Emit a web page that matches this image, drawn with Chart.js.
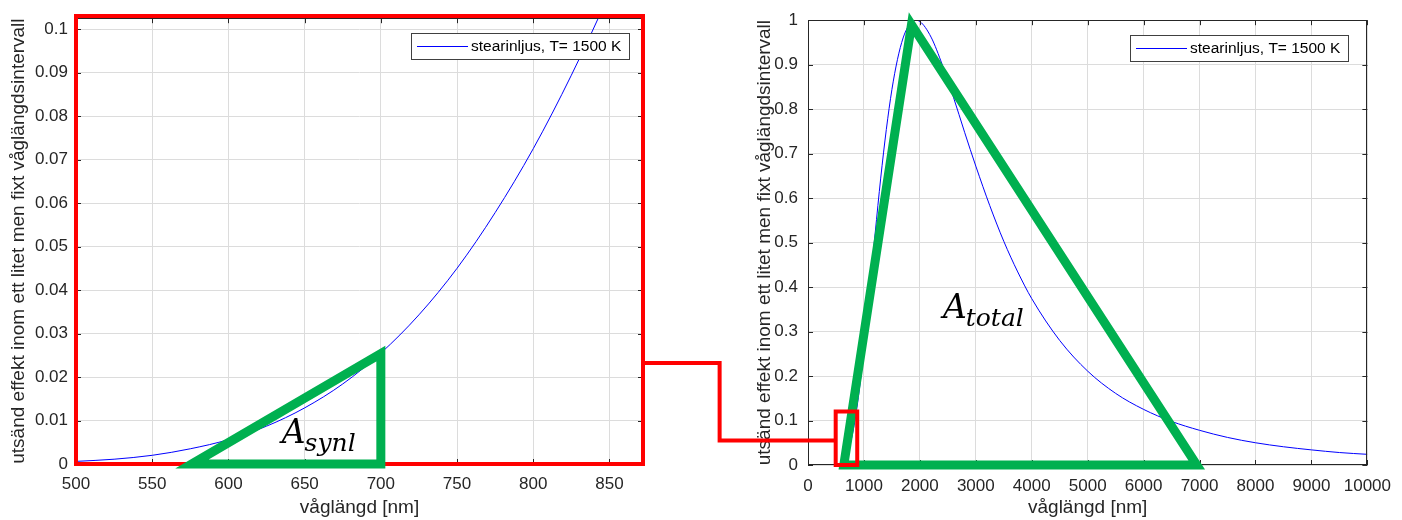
<!DOCTYPE html>
<html>
<head>
<meta charset="utf-8">
<script src="https://cdn.jsdelivr.net/npm/chart.js@4.4.1/dist/chart.umd.min.js"></script>
<style>
    body { margin: 0; background: #fff; }
    #wrap { position: relative; width: 1402px; height: 520px; }
    #wrap canvas { position: absolute; top: 0; }
</style>
</head>
<body>
<div id="wrap">
    <canvas id="zoomChart" width="701" height="520" style="left:0"></canvas>
    <canvas id="fullChart" width="701" height="520" style="left:701px"></canvas>
    <canvas id="overlay" width="1402" height="520" style="left:0;pointer-events:none"></canvas>
</div>
<script>
var seriesLabel = "stearinljus, T= 1500 K";
var titleX = "våglängd [nm]";
var titleY = "utsänd effekt inom ett litet men fixt våglängdsintervall";

// left plot: zoom on the visible band
var zoomWave  = [500, 525, 550, 575, 600, 625, 650, 675, 700, 725, 750, 775, 800, 825, 850, 875];
var zoomPower = [0.0006, 0.0011, 0.0020, 0.0035, 0.0056, 0.0087, 0.0129, 0.0184, 0.0255, 0.0343, 0.0450, 0.0578, 0.0725, 0.0894, 0.1083, 0.1297];
var zoomTicksX = [500, 550, 600, 650, 700, 750, 800, 850];
var zoomTicksY = [0, 0.01, 0.02, 0.03, 0.04, 0.05, 0.06, 0.07, 0.08, 0.09, 0.1];

// right plot: whole spectrum
var fullWave  = [500, 600, 700, 800, 900, 1000, 1100, 1200, 1300, 1400, 1500, 1600, 1700, 1800, 1900, 2000, 2200, 2400, 2600, 2800, 3000, 3250, 3500, 3750, 4000, 4500, 5000, 5500, 6000, 6500, 7000, 7500, 8000, 8500, 9000, 9500, 10000];
var fullPower = [0.0006, 0.0056, 0.0255, 0.0725, 0.152, 0.262, 0.389, 0.520, 0.645, 0.754, 0.844, 0.912, 0.960, 0.988, 1.000, 0.997, 0.962, 0.900, 0.827, 0.748, 0.672, 0.583, 0.503, 0.434, 0.374, 0.280, 0.211, 0.161, 0.125, 0.098, 0.078, 0.062, 0.050, 0.041, 0.034, 0.028, 0.024];
var fullTicksX = [0, 1000, 2000, 3000, 4000, 5000, 6000, 7000, 8000, 9000, 10000];
var fullTicksY = [0, 0.1, 0.2, 0.3, 0.4, 0.5, 0.6, 0.7, 0.8, 0.9, 1];

// hand drawn marks, in data units of each plot
var synlTriangle  = [[576, 0], [700, 0.0254], [700, 0]];
var totalTriangle = [[640, 0], [1850, 0.99], [6950, 0]];
var zoomFrame     = [[500, 0], [500, 0.103], [872, 0.103], [872, 0]];
var zoomMarker    = [[495, 0], [495, 0.12], [880, 0.12], [880, 0]];
var synlLabel  = {main: "A", sub: "synl", x: 635, y: 0.0048};
var totalLabel = {main: "A", sub: "total", x: 2412, y: 0.330};
var connector  = {fromY: 0.0232, elbowX: -1580, toY: 0.055};

var axisColor = "#262626";
var gridColor = "#dcdcdc";
var green = "#00b050";
var red = "#ff0000";

Chart.defaults.font.family = "'Liberation Sans', Arial, sans-serif";
Chart.defaults.color = axisColor;

function toPoints(xs, ys) {
    return xs.map(function (x, i) { return {x: x, y: ys[i]}; });
}

function drawShape(chart, pts, color, width) {
    var ctx = chart.ctx, sx = chart.scales.x, sy = chart.scales.y;
    ctx.save();
    ctx.strokeStyle = color;
    ctx.lineWidth = width;
    ctx.lineJoin = "miter";
    ctx.beginPath();
    pts.forEach(function (p, i) {
        var px = sx.getPixelForValue(p[0]), py = sy.getPixelForValue(p[1]);
        if (i == 0) ctx.moveTo(px, py); else ctx.lineTo(px, py);
    });
    ctx.closePath();
    ctx.stroke();
    ctx.restore();
}

function drawAreaLabel(chart, lab) {
    var ctx = chart.ctx;
    var x = chart.scales.x.getPixelForValue(lab.x), y = chart.scales.y.getPixelForValue(lab.y);
    ctx.save();
    ctx.fillStyle = "#000";
    ctx.textBaseline = "alphabetic";
    ctx.font = "italic 33px 'DejaVu Serif', serif";
    ctx.fillText(lab.main, x, y);
    var w = ctx.measureText(lab.main).width;
    ctx.font = "italic 25px 'DejaVu Serif', serif";
    ctx.fillText(lab.sub, x + w - 1, y + 8);
    ctx.restore();
}

function drawLegendBox(chart, inset) {
    var ctx = chart.ctx, a = chart.chartArea;
    var ds = chart.data.datasets[0];
    ctx.save();
    ctx.font = "15.5px 'Liberation Sans', Arial, sans-serif";
    var w = Math.round(ctx.measureText(ds.label).width + 68);
    var h = 26;
    var x = Math.round(a.right - inset - w), y = Math.round(a.top + 15);
    ctx.fillStyle = "#fff";
    ctx.fillRect(x, y, w, h);
    ctx.strokeStyle = "#404040";
    ctx.lineWidth = 1;
    ctx.strokeRect(x + 0.5, y + 0.5, w, h);
    ctx.strokeStyle = ds.borderColor;
    ctx.beginPath();
    ctx.moveTo(x + 6, y + h / 2 + 0.5);
    ctx.lineTo(x + 57, y + h / 2 + 0.5);
    ctx.stroke();
    ctx.fillStyle = "#000";
    ctx.textBaseline = "middle";
    ctx.fillText(ds.label, x + 60, y + h / 2 + 1);
    ctx.restore();
}

// matlab style box with inward ticks, then the drawn marks and legend
function sketchPlugin(cfg) {
    return {
        id: "sketch",
        afterDatasetsDraw: function (chart) {
            var ctx = chart.ctx, a = chart.chartArea, sx = chart.scales.x, sy = chart.scales.y;
            ctx.save();
            ctx.strokeStyle = axisColor;
            ctx.lineWidth = 1;
            ctx.strokeRect(Math.round(a.left) + 0.5, Math.round(a.top) + 0.5, Math.round(a.right - a.left) - 1, Math.round(a.bottom - a.top) - 1);
            ctx.beginPath();
            sx.ticks.forEach(function (t) {
                var x = Math.round(sx.getPixelForValue(t.value)) + 0.5;
                ctx.moveTo(x, a.bottom); ctx.lineTo(x, a.bottom - 5);
                ctx.moveTo(x, a.top); ctx.lineTo(x, a.top + 5);
            });
            sy.ticks.forEach(function (t) {
                var y = Math.round(sy.getPixelForValue(t.value)) + 0.5;
                ctx.moveTo(a.left, y); ctx.lineTo(a.left + 5, y);
                ctx.moveTo(a.right, y); ctx.lineTo(a.right - 5, y);
            });
            ctx.stroke();
            ctx.restore();
        },
        afterDraw: function (chart) {
            cfg.shapes.forEach(function (s) { drawShape(chart, s.pts, s.color, s.width); });
            drawAreaLabel(chart, cfg.label);
            drawLegendBox(chart, cfg.legendInset);
        }
    };
}

function makeConfig(xs, ys, xMin, xMax, yMax, ticksX, ticksY, area, titlePad, tickPadX, tickPadY, plugin) {
    return {
        type: "line",
        data: {
            datasets: [{
                label: seriesLabel,
                data: toPoints(xs, ys),
                borderColor: "#0000ff",
                borderWidth: 1,
                pointRadius: 0,
                fill: false,
                cubicInterpolationMode: "monotone"
            }]
        },
        options: {
            responsive: false,
            animation: false,
            events: [],
            layout: {padding: {left: 0, right: area.right, top: area.top, bottom: 0}},
            plugins: {legend: {display: false}, tooltip: {enabled: false}},
            scales: {
                x: {
                    type: "linear", min: xMin, max: xMax,
                    afterBuildTicks: function (s) { s.ticks = ticksX.map(function (v) { return {value: v}; }); },
                    afterFit: function (s) { s.height = area.bottom; },
                    grid: {color: gridColor, drawTicks: false},
                    border: {display: false},
                    ticks: {padding: tickPadX, autoSkip: false, maxRotation: 0, font: {size: 17}, color: axisColor,
                        callback: function (v) { return String(v); }},
                    title: {display: true, text: titleX, color: axisColor, font: {size: 19}, padding: {top: 0, bottom: 1}}
                },
                y: {
                    type: "linear", min: 0, max: yMax,
                    afterBuildTicks: function (s) { s.ticks = ticksY.map(function (v) { return {value: v}; }); },
                    afterFit: function (s) { s.width = area.left; },
                    grid: {color: gridColor, drawTicks: false},
                    border: {display: false},
                    ticks: {padding: tickPadY, autoSkip: false, font: {size: 17}, color: axisColor,
                        callback: function (v) { return String(v); }},
                    title: {display: true, text: titleY, color: axisColor, font: {size: 19}, padding: {top: titlePad, bottom: 0}}
                }
            }
        },
        plugins: [plugin]
    };
}

var zoomChart = new Chart(document.getElementById("zoomChart"), makeConfig(
    zoomWave, zoomPower, 500, 872, 0.1025, zoomTicksX, zoomTicksY,
    {left: 76, right: 58, top: 17, bottom: 56}, 7, 10, 8,
    sketchPlugin({
        shapes: [{pts: zoomFrame, color: red, width: 4}, {pts: synlTriangle, color: green, width: 9}],
        label: synlLabel,
        legendInset: 14
    })
));

var fullChart = new Chart(document.getElementById("fullChart"), makeConfig(
    fullWave, fullPower, 0, 10000, 1, fullTicksX, fullTicksY,
    {left: 107, right: 26, top: 18, bottom: 55}, 52, 11, 10,
    sketchPlugin({
        shapes: [{pts: totalTriangle, color: green, width: 9}, {pts: zoomMarker, color: red, width: 4}],
        label: totalLabel,
        legendInset: 19
    })
));

// red link from the zoom frame to the marker on the full plot
function drawConnector() {
    var ctx = document.getElementById("overlay").getContext("2d");
    var offset = 701;
    var x0 = zoomChart.scales.x.getPixelForValue(zoomFrame[2][0]);
    var y0 = zoomChart.scales.y.getPixelForValue(connector.fromY);
    var xe = offset + fullChart.scales.x.getPixelForValue(connector.elbowX);
    var y1 = fullChart.scales.y.getPixelForValue(connector.toY);
    var x1 = offset + fullChart.scales.x.getPixelForValue(zoomMarker[0][0]);
    ctx.strokeStyle = red;
    ctx.lineWidth = 4;
    ctx.lineJoin = "miter";
    ctx.beginPath();
    ctx.moveTo(x0, y0);
    ctx.lineTo(xe, y0);
    ctx.lineTo(xe, y1);
    ctx.lineTo(x1, y1);
    ctx.stroke();
}
drawConnector();
</script>
</body>
</html>
